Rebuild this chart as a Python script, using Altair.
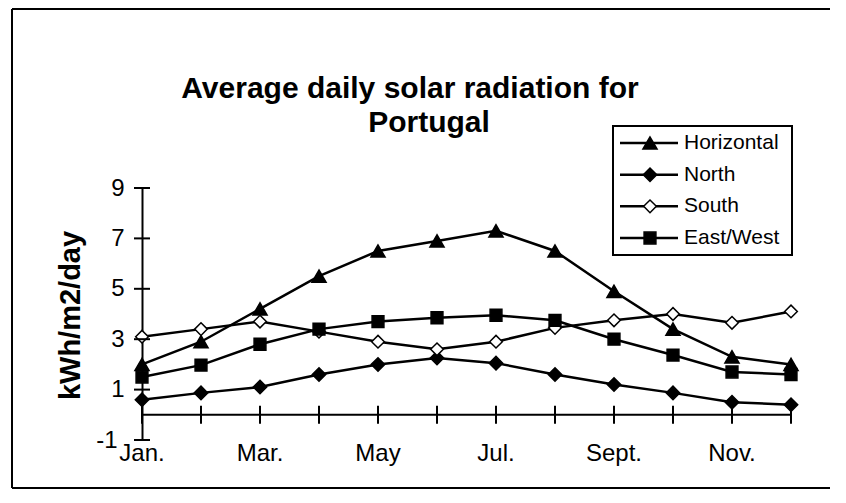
import altair as alt
import pandas as pd

# ---------------- data ----------------
months = ["Jan.", "Feb.", "Mar.", "Apr.", "May", "Jun.", "Jul.", "Aug.", "Sept.", "Oct.", "Nov.", "Dec."]
month_idx = list(range(12))
series_names = ["Horizontal", "North", "South", "East/West"]
horizontal = [2.0, 2.9, 4.2, 5.5, 6.5, 6.9, 7.3, 6.5, 4.9, 3.4, 2.3, 2.0]
north = [0.6, 0.87, 1.1, 1.6, 2.0, 2.25, 2.05, 1.6, 1.2, 0.87, 0.5, 0.4]
south = [3.1, 3.4, 3.7, 3.3, 2.9, 2.6, 2.9, 3.45, 3.75, 4.0, 3.65, 4.1]
east_west = [1.5, 1.97, 2.8, 3.4, 3.7, 3.85, 3.95, 3.75, 3.0, 2.37, 1.7, 1.6]
y_ticks = [-1, 1, 3, 5, 7, 9]
x_label_months = [0, 2, 4, 6, 8, 10]
title_lines = ["Average daily solar radiation for", "Portugal"]
y_title = "kWh/m2/day"

FONT = "Liberation Sans"

values_by_series = {
    "Horizontal": horizontal,
    "North": north,
    "South": south,
    "East/West": east_west,
}
rows = []
for s in series_names:
    for m, v in zip(month_idx, values_by_series[s]):
        rows.append({"series": s, "month": m, "value": v})
df = pd.DataFrame(rows)

shape_scale = alt.Scale(domain=series_names, range=["triangle-up", "diamond", "diamond", "square"])
fill_scale = alt.Scale(domain=series_names, range=["black", "black", "white", "black"])
size_scale = alt.Scale(domain=series_names, range=[200, 140, 120, 110])

x_scale = alt.Scale(domain=[0, 11], nice=False, zero=False)
y_scale = alt.Scale(domain=[-1, 9], nice=False, zero=False)

y_axis = alt.Axis(values=y_ticks, grid=False, ticks=False, domain=True, domainColor="black",
                  domainWidth=2, labelFontSize=24, labelFont=FONT, labelColor="black",
                  labelPadding={"condition": {"test": "datum.value < 0", "value": 25}, "value": 18},
                  labelFlush=False, labelOverlap=False,
                  labelExpr="'' + datum.value",
                  title=y_title, titleFont=FONT, titleFontSize=29, titleFontWeight="bold",
                  titleColor="black", titleAngle=270, titleX=-72, titleY=127,
                  titleBaseline="middle", titleAlign="center")

one = pd.DataFrame({"a": [0]})

# outer frame (left, top, bottom edges)
frame_left = alt.Chart(one).mark_rule(color="black", strokeWidth=2).encode(
    x=alt.value(-130), y=alt.value(-179), y2=alt.value(300))
frame_top = alt.Chart(one).mark_rule(color="black", strokeWidth=2).encode(
    x=alt.value(-130), x2=alt.value(688), y=alt.value(-179))
frame_bottom = alt.Chart(one).mark_rule(color="black", strokeWidth=2).encode(
    x=alt.value(-130), x2=alt.value(688), y=alt.value(300))

lines = alt.Chart(df).mark_line(color="black", strokeWidth=2.5).encode(
    x=alt.X("month:Q", scale=x_scale, axis=None),
    y=alt.Y("value:Q", scale=y_scale, axis=y_axis),
    detail="series:N",
)

points = alt.Chart(df).mark_point(filled=True, stroke="black", strokeWidth=1.5, opacity=1).encode(
    x=alt.X("month:Q", scale=x_scale, axis=None),
    y=alt.Y("value:Q", scale=y_scale, axis=None),
    shape=alt.Shape("series:N", scale=shape_scale, legend=None),
    fill=alt.Fill("series:N", scale=fill_scale, legend=None),
    size=alt.Size("series:N", scale=size_scale, legend=None),
)

xline_df = pd.DataFrame({"x0": [0], "x1": [11], "y0": [0]})
xline = alt.Chart(xline_df).mark_rule(color="black", strokeWidth=2).encode(
    x=alt.X("x0:Q", scale=x_scale, axis=None),
    x2="x1:Q",
    y=alt.Y("y0:Q", scale=y_scale, axis=None),
)

xtick_df = pd.DataFrame({"m": month_idx, "v": [0] * 12})
xticks = alt.Chart(xtick_df).mark_tick(orient="vertical", size=18, thickness=2, color="black", opacity=1).encode(
    x=alt.X("m:Q", scale=x_scale, axis=None),
    y=alt.Y("v:Q", scale=y_scale, axis=None),
)

ytick_df = pd.DataFrame({"m": [0] * len(y_ticks), "v": y_ticks})
yticks = alt.Chart(ytick_df).mark_tick(orient="horizontal", size=16, thickness=2, color="black", opacity=1).encode(
    x=alt.X("m:Q", scale=x_scale, axis=None),
    y=alt.Y("v:Q", scale=y_scale, axis=None),
)

# month labels along the bottom
xlab_df = pd.DataFrame({"m": x_label_months, "label": [months[i] for i in x_label_months]})
xlabels = alt.Chart(xlab_df).mark_text(align="center", baseline="top", fontSize=24, font=FONT,
                                       color="black").encode(
    x=alt.X("m:Q", scale=x_scale, axis=None),
    y=alt.value(254),
    text="label:N",
)

# ---------------- legend + title ----------------
leg_df = pd.DataFrame({"series": series_names, "row": [0, 1, 2, 3]})
row_scale = alt.Scale(domain=[0, 3], range=[-45, 50])

leg_box = alt.Chart(one).mark_rect(fill="white", stroke="black", strokeWidth=2).encode(
    x=alt.value(471), x2=alt.value(650), y=alt.value(-62), y2=alt.value(67))
leg_lines = alt.Chart(leg_df).mark_rule(color="black", strokeWidth=2.5).encode(
    x=alt.value(478), x2=alt.value(536),
    y=alt.Y("row:Q", scale=row_scale, axis=None))
leg_points = alt.Chart(leg_df).mark_point(filled=True, stroke="black", strokeWidth=1.5, opacity=1).encode(
    x=alt.value(508),
    y=alt.Y("row:Q", scale=row_scale, axis=None),
    shape=alt.Shape("series:N", scale=shape_scale, legend=None),
    fill=alt.Fill("series:N", scale=fill_scale, legend=None),
    size=alt.Size("series:N", scale=size_scale, legend=None),
)
leg_text = alt.Chart(leg_df).mark_text(align="left", baseline="middle", fontSize=21, font=FONT, color="black").encode(
    x=alt.value(542),
    y=alt.Y("row:Q", scale=row_scale, axis=None),
    text="series:N",
)

title1 = alt.Chart(one).mark_text(text=title_lines[0], fontSize=30, fontWeight="bold", font=FONT,
                                  align="center", baseline="alphabetic", color="black").encode(
    x=alt.value(268), y=alt.value(-90))
title2 = alt.Chart(one).mark_text(text=title_lines[1], fontSize=30, fontWeight="bold", font=FONT,
                                  align="center", baseline="alphabetic", color="black").encode(
    x=alt.value(287), y=alt.value(-56))

chart = alt.layer(
    frame_left, frame_top, frame_bottom,
    lines, points, xline, xticks, yticks, xlabels,
    leg_box, leg_lines, leg_points, leg_text, title1, title2,
).resolve_scale(y="independent").properties(
    width=649, height=252,
    autosize=alt.AutoSizeParams(type="none"),
    padding={"left": 134, "top": 180, "right": 47, "bottom": 51},
    background="white",
).configure_view(stroke=None)

chart.save("out.html", embed_options={"renderer": "svg", "actions": False})
